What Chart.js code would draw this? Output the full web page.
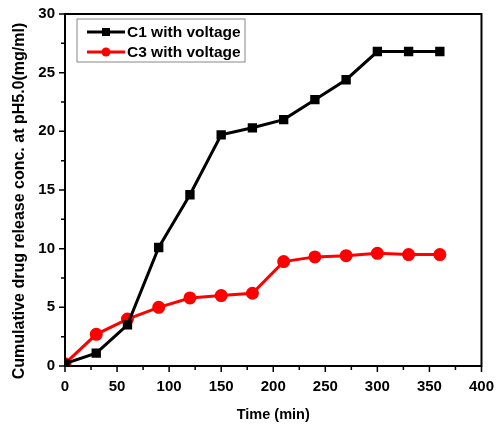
<!DOCTYPE html>
<html>
<head>
<meta charset="utf-8">
<script src="https://cdn.jsdelivr.net/npm/chart.js@4"></script>
<style>
  html, body { margin: 0; padding: 0; background: #fff; }
  #wrap { width: 498px; height: 428px; }
</style>
</head>
<body>
<div id="wrap"><canvas id="release"></canvas></div>
<script>
const times = [0, 30, 60, 90, 120, 150, 180, 210, 240, 270, 300, 330, 360];
const c1Values = [0.2, 1.1, 3.5, 10.1, 14.6, 19.7, 20.3, 21.0, 22.7, 24.4, 26.8, 26.8, 26.8];
const c3Values = [0.2, 2.7, 4.0, 5.0, 5.8, 6.0, 6.2, 8.9, 9.3, 9.4, 9.6, 9.5, 9.5];
const seriesNames = ['C1 with voltage', 'C3 with voltage'];
const yTitle = 'Cumulative drug release conc. at pH5.0(mg/ml)';

const FONT = '"Liberation Sans", Arial, sans-serif';
const toPoints = (vals) => times.map((t, i) => ({ x: t, y: vals[i] }));

// frame, outward ticks (major + minor), y title and the boxed legend
const framePlugin = {
  id: 'frame',
  afterDraw(chart) {
    const ctx = chart.ctx;
    const a = chart.chartArea;
    const xs = chart.scales.x, ys = chart.scales.y;
    ctx.save();
    ctx.strokeStyle = '#000';
    ctx.lineWidth = 2;
    ctx.strokeRect(a.left, a.top, a.right - a.left, a.bottom - a.top);

    ctx.lineWidth = 1.5;
    ctx.beginPath();
    for (let v = 0; v <= 400; v += 25) {
      const px = xs.getPixelForValue(v);
      const len = v % 50 === 0 ? 6 : 4;
      ctx.moveTo(px, a.bottom);
      ctx.lineTo(px, a.bottom + len);
    }
    for (let v = 0; v <= 30; v += 2.5) {
      const py = ys.getPixelForValue(v);
      const len = v % 5 === 0 ? 6 : 4;
      ctx.moveTo(a.left, py);
      ctx.lineTo(a.left - len, py);
    }
    ctx.stroke();

    // y title sits a little below the plot's centre in the original
    ctx.save();
    ctx.translate(20, (a.top + a.bottom) / 2 + 11);
    ctx.rotate(-Math.PI / 2);
    ctx.font = 'bold 16px ' + FONT;
    ctx.fillStyle = '#000';
    ctx.textAlign = 'center';
    ctx.textBaseline = 'middle';
    ctx.fillText(yTitle, 0, 0);
    ctx.restore();

    // legend
    const lx = a.left + 12, ly = a.top + 5, lw = 168, lh = 43;
    ctx.lineWidth = 1;
    ctx.strokeStyle = '#888';
    ctx.strokeRect(lx, ly, lw, lh);
    ctx.font = 'bold 15.5px ' + FONT;
    ctx.textBaseline = 'middle';
    chart.data.datasets.forEach((ds, i) => {
      const y = ly + 13 + i * 20;
      ctx.strokeStyle = ds.borderColor;
      ctx.lineWidth = 3;
      ctx.beginPath();
      ctx.moveTo(lx + 10, y);
      ctx.lineTo(lx + 48, y);
      ctx.stroke();
      ctx.fillStyle = ds.pointBackgroundColor;
      if (ds.pointStyle === 'rect') {
        ctx.fillRect(lx + 25, y - 4, 8, 8);
      } else {
        ctx.beginPath();
        ctx.arc(lx + 29, y, 4.5, 0, Math.PI * 2);
        ctx.fill();
      }
      ctx.fillStyle = '#000';
      ctx.fillText(ds.label, lx + 50, y + 1);
    });
    ctx.restore();
  }
};

new Chart(document.getElementById('release').getContext('2d'), {
  type: 'line',
  data: {
    datasets: [{
      label: seriesNames[0],
      data: toPoints(c1Values),
      borderColor: '#000',
      backgroundColor: '#000',
      pointBackgroundColor: '#000',
      pointBorderColor: '#000',
      pointStyle: 'rect',
      pointRadius: 4.5,
      borderWidth: 3,
      tension: 0
    }, {
      label: seriesNames[1],
      data: toPoints(c3Values),
      borderColor: '#ff0000',
      backgroundColor: '#ff0000',
      pointBackgroundColor: '#ff0000',
      pointBorderColor: '#ff0000',
      pointStyle: 'circle',
      pointRadius: 5,
      borderWidth: 3,
      tension: 0
    }]
  },
  options: {
    responsive: true,
    maintainAspectRatio: false,
    animation: false,
    layout: { padding: { top: 14, right: 16, left: 0, bottom: 0 } },
    scales: {
      x: {
        type: 'linear',
        min: 0, max: 400,
        grid: { display: false },
        border: { display: false },
        afterFit(s) { s.height = 62; },
        ticks: {
          stepSize: 50,
          padding: 4,
          maxRotation: 0,
          color: '#000',
          font: { family: FONT, size: 15, weight: 'bold' }
        },
        title: {
          display: true,
          text: 'Time (min)',
          color: '#000',
          padding: { top: 12 },
          font: { family: FONT, size: 14.5, weight: 'bold' }
        }
      },
      y: {
        min: 0, max: 30,
        grid: { display: false },
        border: { display: false },
        afterFit(s) { s.width = 65; },
        ticks: {
          stepSize: 5,
          padding: 2,
          color: '#000',
          font: { family: FONT, size: 15, weight: 'bold' }
        },
        title: { display: false }
      }
    },
    plugins: {
      legend: { display: false },
      tooltip: { enabled: false }
    }
  },
  plugins: [framePlugin]
});
</script>
</body>
</html>
